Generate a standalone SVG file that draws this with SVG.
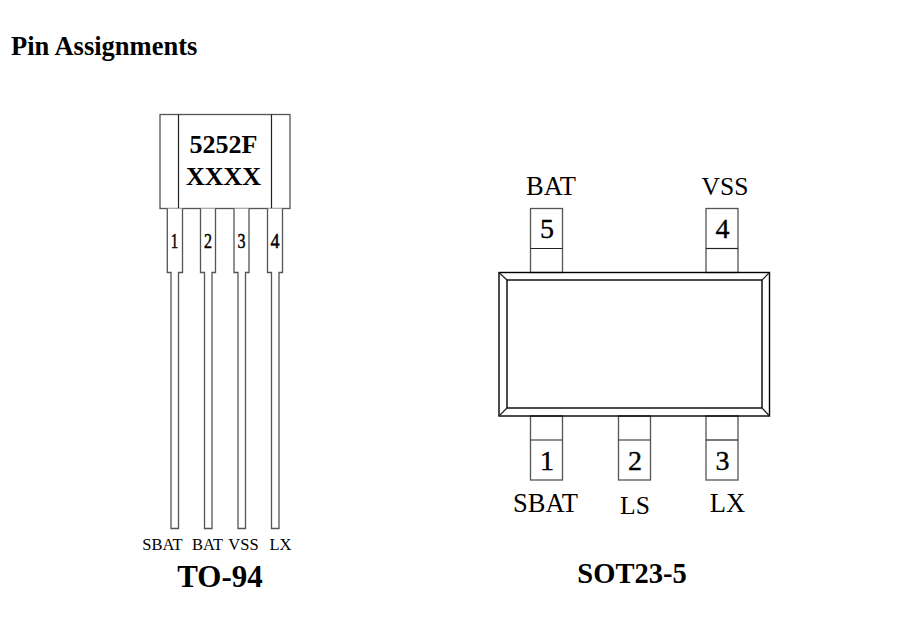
<svg xmlns="http://www.w3.org/2000/svg" width="904" height="617" viewBox="0 0 904 617">
<style>
text{font-family:"Liberation Serif","Times New Roman",serif;fill:#000;text-anchor:middle}
.b{font-weight:bold}
.g{fill:#fff;stroke:#555;stroke-width:1.3}
.l{fill:none;stroke:#222;stroke-width:1.2}
.d{fill:none;stroke:#000;stroke-width:1.4}
.p{font-size:21px;stroke:#000;stroke-width:.5}
.t{font-size:16.500px}
.n{font-size:28px;stroke:#000;stroke-width:.4}
.m{font-size:26.500px}
</style>
<rect width="904" height="617" fill="#fff"/>
<text class="b" x="11" y="55" font-size="26.500" style="text-anchor:start">Pin Assignments</text>
<g id="to94">
<g id="to94-body">
<rect class="g" x="160" y="114.500" width="130" height="94"/>
<path class="l" d="M178.500 114.500V208.500M271.500 114.500V208.500"/>
<text class="b" x="223.500" y="153" font-size="26">5252F</text>
<text class="b" x="223.500" y="185" font-size="26">XXXX</text>
</g>
<g id="to94-pin1"><path class="g" d="M167.300 208.500V272.500H171V528.500H178.500V272.500H182.500V208.500"/><text class="p" x="174.500" y="248" textLength="7.500" lengthAdjust="spacingAndGlyphs">1</text></g>
<g id="to94-pin2"><path class="g" d="M200.500 208.500V272.500H204.500V528.500H212V272.500H215.500V208.500"/><text class="p" x="208" y="248" textLength="8" lengthAdjust="spacingAndGlyphs">2</text></g>
<g id="to94-pin3"><path class="g" d="M234 208.500V272.500H238V528.500H245.500V272.500H249V208.500"/><text class="p" x="241.500" y="248" textLength="8" lengthAdjust="spacingAndGlyphs">3</text></g>
<g id="to94-pin4"><path class="g" d="M267.500 208.500V272.500H271.500V528.500H279V272.500H282.500V208.500"/><text class="p" x="275" y="248" textLength="9" lengthAdjust="spacingAndGlyphs">4</text></g>
<text class="t" x="162.500" y="550">SBAT</text>
<text class="t" x="207.500" y="550">BAT</text>
<text class="t" x="243.500" y="550">VSS</text>
<text class="t" x="280.500" y="550">LX</text>
<text class="b" x="220" y="587" font-size="31">TO-94</text>
</g>
<g id="sot23">
<g id="sot-pin5"><rect class="g" x="530.500" y="208.500" width="32" height="64"/><path class="l" d="M530.500 248.500H562.500"/><text class="n" x="547" y="238">5</text><text class="m" x="551" y="195">BAT</text></g>
<g id="sot-pin4"><rect class="g" x="706" y="208.500" width="32" height="64"/><path class="l" d="M706 248.500H738"/><text class="n" x="722.500" y="238">4</text><text class="m" x="725" y="195" style="font-size:25.500px">VSS</text></g>
<g id="sot-pin1"><rect class="g" x="530.500" y="416" width="32" height="64"/><path class="l" d="M530.500 440H562.500"/><text class="n" x="547" y="470">1</text><text class="m" x="545.500" y="512">SBAT</text></g>
<g id="sot-pin2"><rect class="g" x="618.500" y="416" width="32" height="64"/><path class="l" d="M618.500 440H650.500"/><text class="n" x="635" y="470">2</text><text class="m" x="635" y="514" style="font-size:25.500px">LS</text></g>
<g id="sot-pin3"><rect class="g" x="706" y="416" width="32" height="64"/><path class="l" d="M706 440H738"/><text class="n" x="722.500" y="470">3</text><text class="m" x="727.500" y="512">LX</text></g>
<g id="sot-body">
<rect class="d" x="499" y="272.500" width="270.500" height="143.500"/>
<rect class="d" x="507" y="280" width="255" height="128"/>
<path class="l" d="M499 272.500L507 280M769.500 272.500L762 280M499 416L507 408M769.500 416L762 408"/>
</g>
<text class="b" x="632" y="583" font-size="28.500">SOT23-5</text>
</g>
<g id="connectors"></g>
</svg>
